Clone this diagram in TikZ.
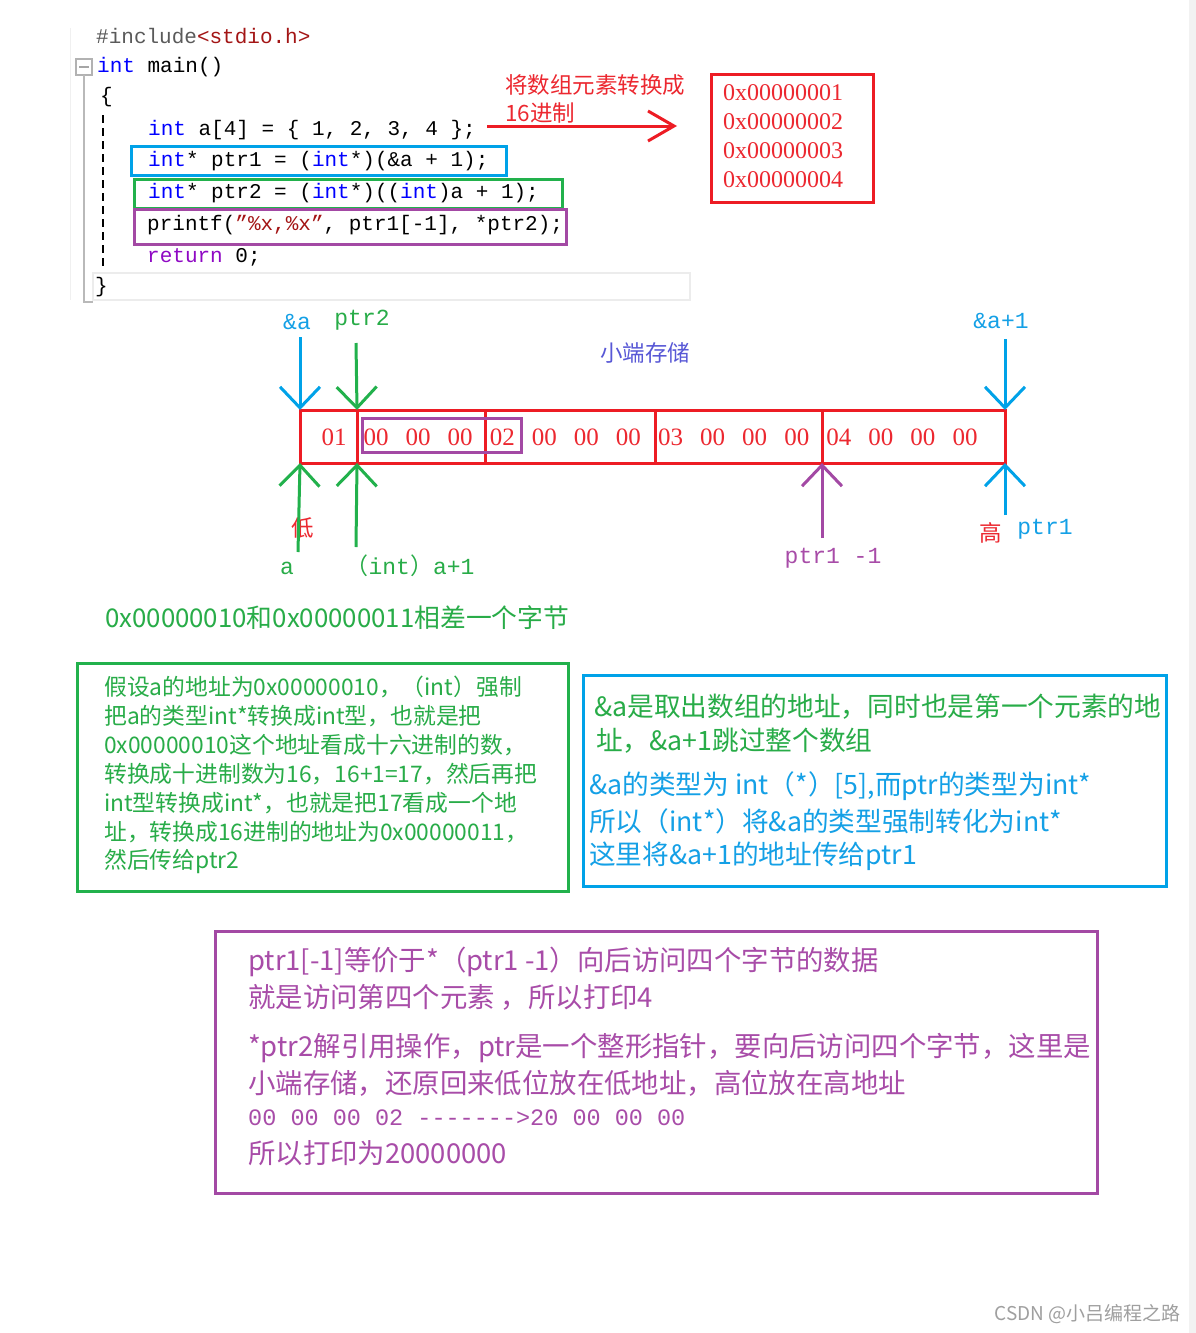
\documentclass[tikz,border=0pt]{standalone}
\usepackage{fontspec}
\setmainfont{Liberation Mono}
\newfontfamily\cjk{Noto Sans CJK SC}
\newfontfamily\digits{Liberation Serif}
\usetikzlibrary{arrows.meta,positioning,calc}

\definecolor{pred}{RGB}{237,28,36}
\definecolor{pblue}{RGB}{0,162,232}
\definecolor{pgreen}{RGB}{34,177,76}
\definecolor{ppurple}{RGB}{163,73,164}
\definecolor{tred}{RGB}{236,40,48}
\definecolor{tblue}{RGB}{20,160,230}
\definecolor{tgreen}{RGB}{40,172,72}
\definecolor{tpurple}{RGB}{168,76,168}
\definecolor{tslate}{RGB}{88,88,214}
\definecolor{ckey}{RGB}{0,0,255}
\definecolor{cstr}{RGB}{163,21,21}
\definecolor{cret}{RGB}{143,8,196}
\definecolor{cgray}{RGB}{90,90,90}

\begin{document}
\begin{tikzpicture}[
    x=1pt, y=-1pt,
    codeline/.style={anchor=west, inner sep=0pt, font=\fontsize{21}{25}\selectfont},
    hexval/.style={anchor=west, inner sep=0pt, text=tred, font=\digits\fontsize{24}{28}\selectfont},
    byte/.style={inner sep=0pt, text=tred, font=\digits\fontsize{25}{28}\selectfont},
    cell/.style={rectangle, draw=pred, line width=3pt, inner sep=0pt, outer sep=0pt, anchor=north west, minimum height=53pt},
    lbl/.style={inner sep=0pt, font=\fontsize{23}{27}\selectfont},
    cjklbl/.style={inner sep=0pt, font=\cjk\fontsize{22.5}{27}\selectfont},
    ptr/.style={line width=3pt, -{Straight Barb[length=21pt,width=40pt,line width=3pt]}},
    redarr/.style={draw=pred, line width=3pt, -{Straight Barb[length=26pt,width=30pt,line width=3pt]}},
    note/.style={anchor=west, inner sep=0pt},
    frame/.style={line width=3pt}
]
\useasboundingbox (0,0) rectangle (1196,1333);
\fill[white] (0,0) rectangle (1196,1333);
\fill[gray!10] (1189,0) rectangle (1196,1333);

% editor margin
\draw[gray!12, line width=1pt] (70,28) -- (70,300);
\draw[gray!60, line width=1.8pt] (76,59) rectangle (92,75);
\draw[gray!70, line width=1.8pt] (79,67) -- (89,67);
\draw[gray!55, line width=2pt] (84,75) -- (84,302) -- (93,302);
\draw[gray!15, line width=2.5pt] (93,273) rectangle (690,300);
\draw[black, line width=1.5pt, dash pattern=on 8pt off 5pt] (103,115) -- (103,268);

% code
\node[codeline] (inc) at (96,36) {\textcolor{cgray}{\#include}\textcolor{cstr}{<stdio.h>}};
\node[codeline] (mainl) at (97,67) {\textcolor{ckey}{int} main()};
\node[codeline] (lbrace) at (100,97) {\{};
\node[codeline] (arr) at (148,130) {\textcolor{ckey}{int} a[4] = \{ 1, 2, 3, 4 \};};
\node[codeline] (pone) at (148,161) {\textcolor{ckey}{int}* ptr1 = (\textcolor{ckey}{int}*)(\&a + 1);};
\node[codeline] (ptwo) at (148,193) {\textcolor{ckey}{int}* ptr2 = (\textcolor{ckey}{int}*)((\textcolor{ckey}{int})a + 1);};
\node[codeline] (prt) at (147,225) {printf(\textcolor{cstr}{"\%x,\%x"}, ptr1[-1], *ptr2);};
\node[codeline] (ret) at (147,257) {\textcolor{cret}{return} 0;};
\node[codeline] (rbrace) at (95,287) {\}};

% highlight boxes
\draw[frame, draw=pblue] (131,146) rectangle (506,175);
\draw[frame, draw=pgreen] (134,179) rectangle (562,208);
\draw[frame, draw=ppurple] (134,209) rectangle (566,244);

% hex values
\node[cjklbl, anchor=west, text=tred] (toHex) at (505,85) {将数组元素转换成};
\node[cjklbl, anchor=west, text=tred] (toHexB) at (505,113) {16进制};
\coordinate (hexTail) at (487,126);
\coordinate (hexTip) at (677,126);
\draw[redarr] (hexTail) -- (hexTip);
\draw[frame, draw=pred] (711,74) rectangle (873,202);
\foreach \v [count=\i from 0] in {1,2,3,4}
  \node[hexval] (hex\v) at (723,93+29*\i) {0x0000000\v};

% memory, little endian
\node[cjklbl, text=tslate] (lblLE) at (645,353) {小端存储};
\node[cell, minimum width=185pt] (elemA) at (300,410) {};
\node[cell, minimum width=57pt] (cellA) at (300,410) {};
\node[cell, minimum width=170pt] (elemB) at (485,410) {};
\node[cell, minimum width=167pt] (elemC) at (655,410) {};
\node[cell, minimum width=183pt] (elemD) at (822,410) {};
\draw[frame, draw=ppurple] (362,418) rectangle (521,452);
\foreach \b [count=\i from 0] in {01,00,00,00,02,00,00,00,03,00,00,00,04,00,00,00}
  \node[byte] (byte\i) at (334+42.07*\i,437) {\b};

% pointer labels
\node[lbl, text=tblue] (lblA) at (297,322) {\&a};
\node[lbl, text=tgreen] (lblP2) at (362,320) {ptr2};
\node[lbl, text=tblue] (lblEnd) at (1001,321) {\&a+1};
\node[cjklbl, text=tred] (lblLow) at (303,528) {低};
\node[lbl, text=tgreen] (lblA0) at (287,568) {a};
\node[lbl, text=tgreen] (lblA1) at (410,566) {{\cjk （}int{\cjk ）}a+1};
\node[lbl, text=tpurple] (lblM1) at (833,558) {ptr1 -1};
\node[cjklbl, text=tred] (lblHigh) at (991,533) {高};
\node[lbl, text=tblue] (lblP1) at (1045,529) {ptr1};

% pointer arrows
\coordinate (aTail) at (300,337);
\coordinate (p2Tail) at (356,343);
\coordinate (a0Tail) at (298,552);
\coordinate (a1Tail) at (356,547);
\coordinate (m1Tail) at (822,538);
\coordinate (endTail) at (1005,339);
\coordinate (p1Tail) at (1005,515);
\draw[ptr, pblue] (aTail) -- (elemA.north west);
\draw[ptr, pgreen] (p2Tail) -- (cellA.north east);
\draw[ptr, pgreen] (a0Tail) -- (elemA.south west);
\draw[ptr, pgreen] (a1Tail) -- (cellA.south east);
\draw[ptr, ppurple] (m1Tail) -- (elemD.south west);
\draw[ptr, pblue] (endTail) -- (elemD.north east);
\draw[ptr, pblue] (p1Tail) -- (elemD.south east);

% byte offset
\node[note, text=tgreen, font=\cjk\fontsize{25.8}{30}\selectfont] (diff) at (105,618) {0x00000010和0x00000011相差一个字节};

% note on ptr2
\draw[frame, draw=pgreen] (77,663) rectangle (568,891);
\foreach \txt [count=\i from 0] in {
    {假设a的地址为0x00000010，（int）强制},
    {把a的类型int*转换成int型，也就是把},
    {0x00000010这个地址看成十六进制的数，},
    {转换成十进制数为16，16+1=17，然后再把},
    {int型转换成int*，也就是把17看成一个地},
    {址，转换成16进制的地址为0x00000011，},
    {然后传给ptr2}}
  \node[note, text=tgreen, font=\cjk\fontsize{22.8}{27}\selectfont] (g\i) at (104,687+29*\i) {\txt};

% note on ptr1
\draw[frame, draw=pblue] (583,675) rectangle (1166,886);
\node[note, text=tgreen, font=\cjk\fontsize{26.7}{30}\selectfont] (b0) at (594,707) {\&a是取出数组的地址，同时也是第一个元素的地};
\node[note, text=tgreen, font=\cjk\fontsize{26.7}{30}\selectfont] (b1) at (596,741) {址，\&a+1跳过整个数组};
\foreach \txt [count=\i from 2] in {
    {\&a的类型为 int（*）[5],而ptr的类型为int*},
    {所以（int*）将\&a的类型强制转化为int*},
    {这里将\&a+1的地址传给ptr1}}
  \node[note, text=tblue, font=\cjk\fontsize{26.7}{30}\selectfont] (b\i) at (589,786+35*\i-70) {\txt};

% note on printf
\draw[frame, draw=ppurple] (215,931) rectangle (1097,1193);
\node[note, text=tpurple, font=\cjk\fontsize{27.4}{31}\selectfont] (m0) at (248,962) {ptr1[-1]等价于*（ptr1 -1）向后访问四个字节的数据};
\node[note, text=tpurple, font=\cjk\fontsize{27.4}{31}\selectfont] (m1) at (248,997) {就是访问第四个元素 ，所以打印4};
\node[note, text=tpurple, font=\cjk\fontsize{27.4}{31}\selectfont] (m2) at (248,1048) {*ptr2解引用操作，ptr是一个整形指针，要向后访问四个字节，这里是};
\node[note, text=tpurple, font=\cjk\fontsize{27.4}{31}\selectfont] (m3) at (248,1083) {小端存储，还原回来低位放在低地址，高位放在高地址};
\node[note, text=tpurple, font=\fontsize{23.5}{28}\selectfont] (m4) at (248,1118) {00 00 00 02 -{}-{}-{}-{}-{}-{}->20 00 00 00};
\node[note, text=tpurple, font=\cjk\fontsize{27.4}{31}\selectfont] (m5) at (248,1153) {所以打印为20000000};

% watermark
\node[anchor=east, inner sep=0pt, text=gray!75, font=\cjk\fontsize{19}{22}\selectfont] (mark) at (1181,1314) {CSDN @小吕编程之路};
\end{tikzpicture}
\end{document}
